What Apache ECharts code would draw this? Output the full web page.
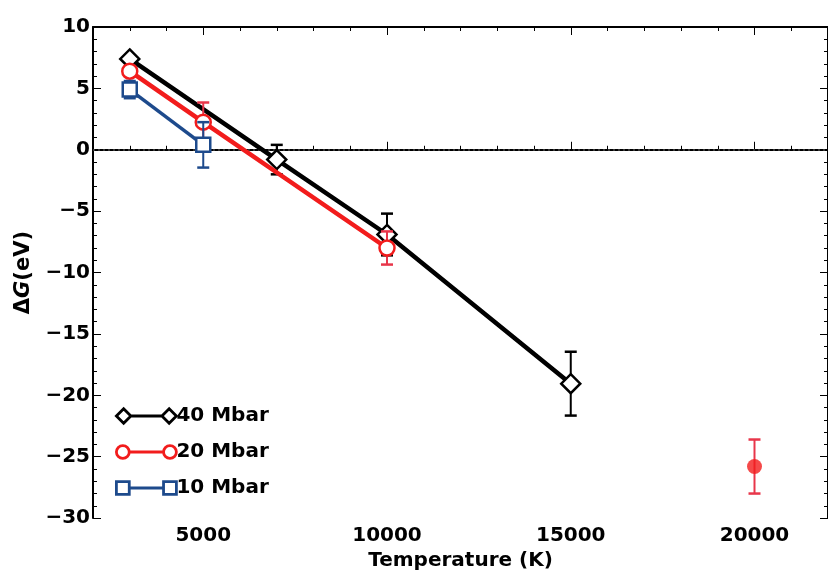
<!DOCTYPE html>
<html><head><meta charset="utf-8">
<script src="https://cdn.jsdelivr.net/npm/echarts@6/dist/echarts.min.js"></script>
<style>html,body{margin:0;padding:0;background:#fff}#c{width:828px;height:576px}</style>
</head><body><div id="c"></div>
<script>
// ---- data ----
const xMajorTicks = [5000, 10000, 15000, 20000];
const yTicks = [10, 5, 0, -5, -10, -15, -20, -25, -30];
const temps40 = [3000, 7000, 10000, 15000];
const dg40 = [7.4, -0.8, -6.9, -19.05];
const err40 = [0, 1.2, 1.7, 2.6];
const temps20 = [3000, 5000, 10000];
const dg20 = [6.4, 2.25, -8.0];
const err20 = [0, 1.6, 1.35];
const temps10 = [3000, 5000];
const dg10 = [4.9, 0.4];
const err10 = [0.7, 1.85];
const tempsExtra = [20000];
const dgExtra = [-25.8];
const errExtra = [2.2];
const names = ['40 Mbar', '20 Mbar', '10 Mbar'];

const BLACK = '#000', RED = '#f21c1c', BLUE = '#1d4a8c', RED2 = '#e8364a';
const FONT = 'DejaVu Sans';

function pts(xs, ys) { return xs.map((x, i) => [x, ys[i]]); }
function errs(xs, ys, es) {
  return xs.map((x, i) => [x, ys[i] - es[i], ys[i] + es[i]]).filter((d, i) => es[i] > 0);
}
function errSeries(data, color, z) {
  return {
    type: 'custom', data: data, z: z, silent: true,
    encode: { x: 0, y: [1, 2] },
    renderItem: function (params, api) {
      const lo = api.coord([api.value(0), api.value(1)]);
      const hi = api.coord([api.value(0), api.value(2)]);
      const w = 6;
      const st = { stroke: color, lineWidth: 2 };
      return { type: 'group', children: [
        { type: 'line', shape: { x1: lo[0], y1: lo[1], x2: hi[0], y2: hi[1] }, style: st },
        { type: 'line', shape: { x1: lo[0] - w, y1: lo[1], x2: lo[0] + w, y2: lo[1] }, style: { stroke: color, lineWidth: 2.5 } },
        { type: 'line', shape: { x1: hi[0] - w, y1: hi[1], x2: hi[0] + w, y2: hi[1] }, style: { stroke: color, lineWidth: 2.5 } }
      ]};
    }
  };
}

const xBase = { type: 'value', min: 2000, max: 22000, interval: 1000, gridIndex: 0,
  splitLine: { show: false }, axisLine: { show: true, lineStyle: { color: '#000', width: 2 } } };
const xAxes = [
  Object.assign({}, xBase, { position: 'bottom',
    axisTick: { show: true, inside: true, length: 4, lineStyle: { color: '#000' } },
    axisLabel: { show: true, customValues: xMajorTicks, formatter: v => '' + v, color: '#000',
      fontFamily: FONT, fontSize: 20, fontWeight: 'bold', margin: 8 },
    name: 'Temperature (K)', nameLocation: 'middle', nameGap: 32,
    nameTextStyle: { color: '#000', fontFamily: FONT, fontSize: 20, fontWeight: 'bold' } }),
  Object.assign({}, xBase, { position: 'bottom', axisLine: { show: false },
    axisTick: { show: true, inside: true, length: 8, customValues: xMajorTicks, lineStyle: { color: '#000' } },
    axisLabel: { show: false } }),
  Object.assign({}, xBase, { position: 'top',
    axisTick: { show: true, inside: true, length: 4, lineStyle: { color: '#000' } },
    axisLabel: { show: false } }),
  Object.assign({}, xBase, { position: 'top', axisLine: { show: false },
    axisTick: { show: true, inside: true, length: 8, customValues: xMajorTicks, lineStyle: { color: '#000' } },
    axisLabel: { show: false } })
];
const yBase = { type: 'value', min: -30, max: 10, interval: 5, splitLine: { show: false },
  axisLine: { show: true, onZero: false, lineStyle: { color: '#000', width: 2 } },
  axisTick: { show: true, inside: true, length: 8, lineStyle: { color: '#000' } },
  minorTick: { show: true, splitNumber: 5, length: 4, lineStyle: { color: '#000' } },
  minorSplitLine: { show: false } };
const yAxes = [
  Object.assign({}, yBase, { position: 'left',
    axisLabel: { color: '#000', fontFamily: FONT, fontSize: 20, fontWeight: 'bold', margin: 3,
      formatter: v => (v < 0 ? '\u2212' + Math.abs(v) : '' + v) },
    name: '{d|Δ}{g|G}{d|(eV)}', nameLocation: 'middle', nameGap: 58, nameRotate: 90,
    nameTextStyle: { color: '#000', fontFamily: FONT, fontSize: 21,
      rich: { d: { fontFamily: FONT, fontSize: 21, fontWeight: 'bold', color: '#000' },
              g: { fontFamily: FONT, fontSize: 21, fontWeight: 'bold', fontStyle: 'italic', color: '#000' } } } }),
  Object.assign({}, yBase, { position: 'right', axisLabel: { show: false } })
];

function lineSeries(name, data, color, symbol, size, width, z) {
  return { type: 'line', name: name, data: data, z: z, xAxisIndex: 0, yAxisIndex: 0,
    symbol: symbol, symbolSize: size, showAllSymbol: true,
    lineStyle: { color: color, width: width },
    itemStyle: { color: '#fff', borderColor: color, borderWidth: 2.5, opacity: 1 },
    emphasis: { disabled: true }, animation: false };
}

const s40 = lineSeries(names[0], pts(temps40, dg40), BLACK, 'diamond', 19, 4.5, 5);
s40.markLine = { silent: true, symbol: 'none', animation: false,
  lineStyle: { color: '#444', width: 1.5, type: [2, 3] }, label: { show: false },
  data: [{ yAxis: 0 }] };

const iconDiamond = 'path://M1 8L8 1L15 8L8 15ZM15 8L45 8M45 8L52 1L59 8L52 15Z';
const iconCircle = 'path://M2 8A6 6 0 1 1 14 8A6 6 0 1 1 2 8ZM14 8L46 8M46 8A6 6 0 1 1 58 8A6 6 0 1 1 46 8ZM30 1L30 1M30 15L30 15';
const iconSquare = 'path://M2 2L14 2L14 14L2 14ZM14 8L46 8M46 2L58 2L58 14L46 14ZM30 1L30 1M30 15L30 15';

const option = {
  animation: false,
  backgroundColor: '#fff',
  grid: { left: 93, right: 0, top: 27, bottom: 54, containLabel: false },
  xAxis: xAxes,
  yAxis: yAxes,
  legend: { orient: 'vertical', left: 110, top: 401, itemGap: 16, itemWidth: 60, itemHeight: 16,
    textStyle: { color: '#000', fontFamily: FONT, fontSize: 20, fontWeight: 'bold', padding: [0, 0, 0, -5] },
    selectedMode: false,
    data: [
      { name: names[0], icon: iconDiamond, itemStyle: { color: '#fff', borderColor: BLACK, borderWidth: 2.8 } },
      { name: names[1], icon: iconCircle, itemStyle: { color: '#fff', borderColor: RED, borderWidth: 2.8 } },
      { name: names[2], icon: iconSquare, itemStyle: { color: '#fff', borderColor: BLUE, borderWidth: 2.8 } }
    ] },
  series: [
    s40,
    errSeries(errs(temps40, dg40, err40), BLACK, 4),
    lineSeries(names[1], pts(temps20, dg20), RED, 'circle', 15, 4.5, 7),
    errSeries(errs(temps20, dg20, err20), RED2, 6),
    lineSeries(names[2], pts(temps10, dg10), BLUE, 'rect', 14, 3.5, 9),
    errSeries(errs(temps10, dg10, err10), BLUE, 8),
    errSeries(errs(tempsExtra, dgExtra, errExtra), RED2, 10),
    { type: 'scatter', name: 'extra', data: pts(tempsExtra, dgExtra), symbol: 'circle', symbolSize: 15,
      itemStyle: { color: RED }, z: 11, silent: true }
  ]
};
echarts.init(document.getElementById('c'), null, { renderer: 'canvas' }).setOption(option);
</script>
</body></html>
